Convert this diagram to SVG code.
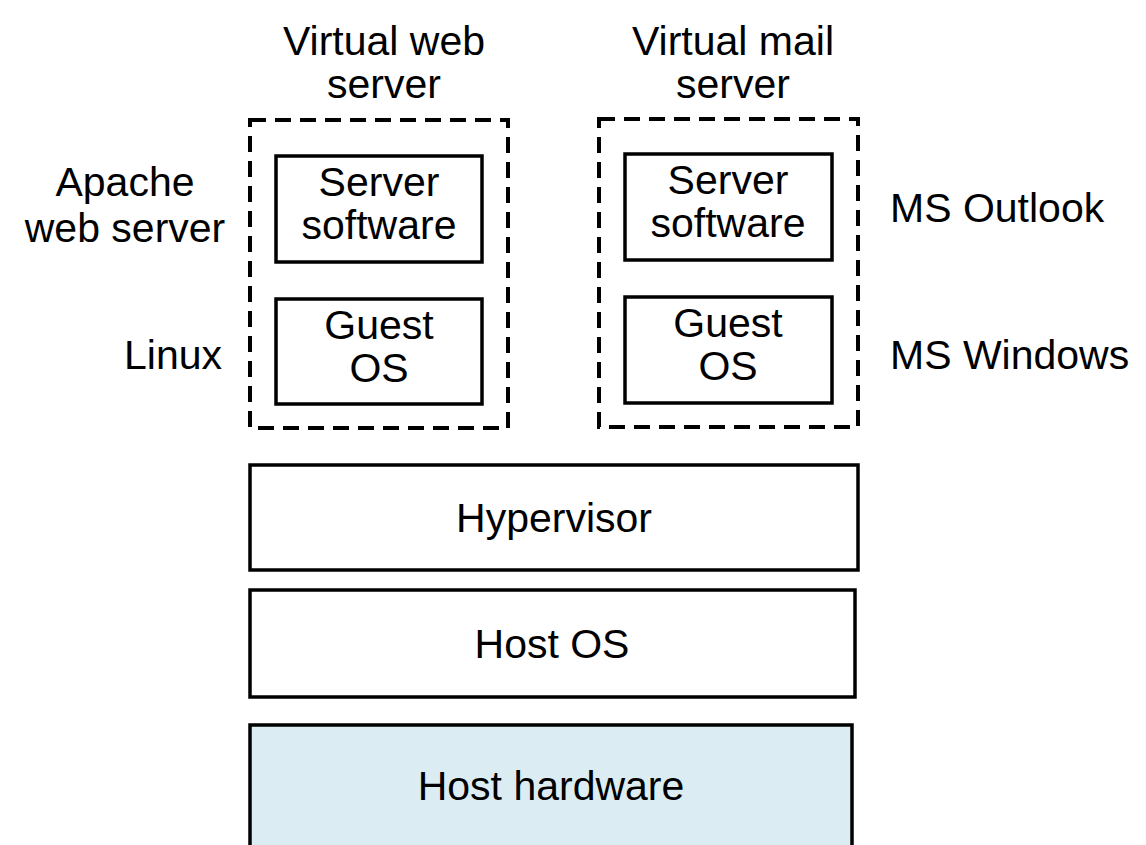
<svg xmlns="http://www.w3.org/2000/svg" width="1146" height="845" viewBox="0 0 1146 845">
<style>
text{font-family:"Liberation Sans",Arial,sans-serif;font-size:41px;fill:#000}
.c{text-anchor:middle}
.e{text-anchor:end}
.box{fill:#fff;stroke:#000;stroke-width:3.5}
.dash{fill:none;stroke:#000;stroke-width:4;stroke-dasharray:16 9}
</style>
<rect width="1146" height="845" fill="#fff"/>
<g id="vm-web">
<rect class="dash" x="250" y="120" width="258" height="308"/>
<text class="c" x="384" y="55">Virtual web</text>
<text class="c" x="384" y="98">server</text>
</g>
<g id="vm-mail">
<rect class="dash" x="599" y="119" width="259" height="308"/>
<text class="c" x="733" y="55">Virtual mail</text>
<text class="c" x="733" y="98">server</text>
</g>
<g id="sw-web">
<rect class="box" x="276" y="156" width="206" height="106"/>
<text class="c" x="379" y="196">Server</text>
<text class="c" x="379" y="239">software</text>
</g>
<g id="os-web">
<rect class="box" x="276" y="299" width="206" height="105"/>
<text class="c" x="379" y="339">Guest</text>
<text class="c" x="379" y="382">OS</text>
</g>
<g id="sw-mail">
<rect class="box" x="625" y="154" width="207" height="106"/>
<text class="c" x="728" y="194">Server</text>
<text class="c" x="728" y="237">software</text>
</g>
<g id="os-mail">
<rect class="box" x="625" y="297" width="207" height="106"/>
<text class="c" x="728" y="337">Guest</text>
<text class="c" x="728" y="380">OS</text>
</g>
<g id="label-apache">
<text class="c" x="125" y="196">Apache</text>
<text class="c" x="125" y="242">web server</text>
</g>
<g id="label-linux"><text class="e" x="222" y="369">Linux</text></g>
<g id="label-outlook"><text x="890" y="222">MS Outlook</text></g>
<g id="label-windows"><text x="890" y="369">MS Windows</text></g>
<g id="hypervisor">
<rect class="box" x="250" y="465" width="608" height="105"/>
<text class="c" x="554" y="532">Hypervisor</text>
</g>
<g id="host-os">
<rect class="box" x="250" y="590" width="605" height="107"/>
<text class="c" x="552" y="658">Host OS</text>
</g>
<g id="host-hw">
<rect class="box" x="250" y="725" width="602" height="140" style="fill:#dbedf3"/>
<text class="c" x="551" y="800">Host hardware</text>
</g>
<g id="connectors"></g>
</svg>
